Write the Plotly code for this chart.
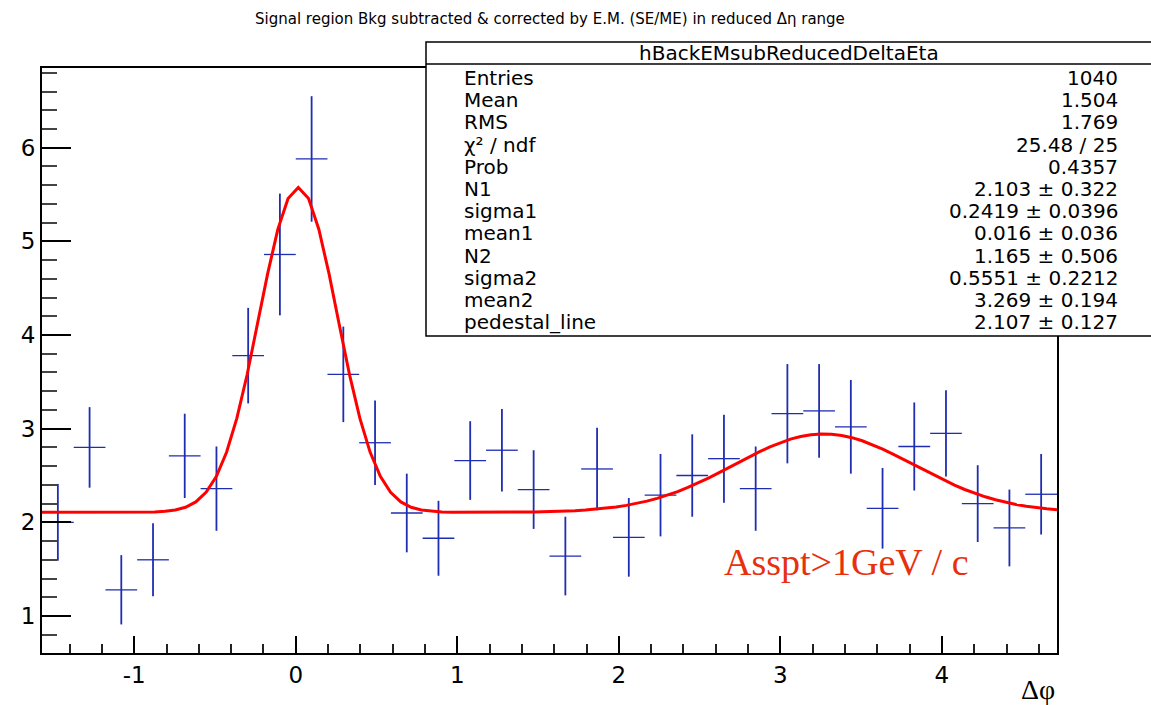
import numpy as np
import plotly.graph_objects as go

# ---------------- data ----------------
n_bins = 32
x_low, x_high = -np.pi / 2, 3 * np.pi / 2

bin_values = [2.00, 2.80, 1.28, 1.60, 2.71, 2.36, 3.78, 4.86, 5.88, 3.58, 2.85, 2.10,
              1.83, 2.66, 2.77, 2.35, 1.64, 2.57, 1.84, 2.29, 2.50, 2.68, 2.36, 3.16,
              3.19, 3.02, 2.15, 2.81, 2.95, 2.20, 1.94, 2.30]
bin_errors = [0.41, 0.43, 0.37, 0.39, 0.45, 0.45, 0.51, 0.65, 0.67, 0.51, 0.45, 0.42,
              0.40, 0.42, 0.44, 0.42, 0.42, 0.44, 0.42, 0.44, 0.44, 0.47, 0.45, 0.53,
              0.50, 0.50, 0.43, 0.47, 0.46, 0.41, 0.41, 0.43]

# fit parameters (from stats box)
N1, sigma1, mean1 = 2.103, 0.2419, 0.016
N2, sigma2, mean2 = 1.165, 0.5551, 3.269
pedestal = 2.107
n_fit_points = 100

x_tick_values = [-1, 0, 1, 2, 3, 4]
x_tick_labels = ["-1", "0", "1", "2", "3", "4"]
y_tick_values = [1, 2, 3, 4, 5, 6]
y_tick_labels = ["1", "2", "3", "4", "5", "6"]

stats_title = "hBackEMsubReducedDeltaEta"
stats_labels = ["Entries", "Mean", "RMS", "χ² / ndf", "Prob", "N1", "sigma1",
                "mean1", "N2", "sigma2", "mean2", "pedestal_line"]
stats_values = ["1040", "1.504", "1.769", "25.48 / 25", "0.4357", "2.103 ± 0.322",
                "0.2419 ± 0.0396", "0.016 ± 0.036", "1.165 ± 0.506", "0.5551 ± 0.2212",
                "3.269 ± 0.194", "2.107 ± 0.127"]

title_text = "Signal region Bkg subtracted & corrected by E.M. (SE/ME) in reduced Δη range"
x_title = "Δφ"
label_text = "Asspt>1GeV / c"

# ---------------- derived ----------------
bin_width = (x_high - x_low) / n_bins
bin_centers = x_low + (np.arange(n_bins) + 0.5) * bin_width


def fit_func(x):
    g1 = N1 / (np.sqrt(2 * np.pi) * sigma1) * np.exp(-0.5 * ((x - mean1) / sigma1) ** 2)
    g2 = N2 / (np.sqrt(2 * np.pi) * sigma2) * np.exp(-0.5 * ((x - mean2) / sigma2) ** 2)
    return pedestal + g1 + g2


fit_x = np.linspace(x_low, x_high, n_fit_points)
fit_y = fit_func(fit_x)

# ---------------- layout geometry (pixels) ----------------
W, H = 1151, 705
L, R, T, B = 42, 1057, 68, 653


def px(xp):
    return (xp - L) / (R - L)


def py(yp):
    return (B - yp) / (B - T)


blue = "#1f2db0"

fig = go.Figure()
fig.add_trace(go.Scatter(
    x=bin_centers, y=bin_values, mode="markers",
    marker=dict(size=1, color=blue, opacity=0),
    error_x=dict(type="constant", value=bin_width / 2, width=0, thickness=1.3, color=blue),
    error_y=dict(type="data", array=bin_errors, width=0, thickness=1.8, color=blue),
    showlegend=False, hoverinfo="skip"))
fig.add_trace(go.Scatter(
    x=fit_x, y=fit_y, mode="lines", line=dict(color="#ff0000", width=3),
    showlegend=False, hoverinfo="skip"))

axis_font = dict(family="DejaVu Sans", size=23, color="black")
fig.update_xaxes(
    range=[x_low, x_high], showgrid=False, zeroline=False,
    showline=True, linecolor="black", linewidth=2, mirror=True,
    ticks="inside", ticklen=17, tickwidth=2, tickcolor="black",
    tickmode="array", tickvals=x_tick_values, ticktext=x_tick_labels, tickfont=axis_font,
    minor=dict(ticks="inside", ticklen=9, tickmode="linear", dtick=0.2, tick0=0,
               tickwidth=1.5, tickcolor="#222"))
fig.update_yaxes(
    range=[0.605, 6.851], showgrid=False, zeroline=False,
    showline=True, linecolor="black", linewidth=2, mirror=True,
    ticks="inside", ticklen=29, tickwidth=2, tickcolor="black",
    tickmode="array", tickvals=y_tick_values, ticktext=y_tick_labels, tickfont=axis_font,
    minor=dict(ticks="inside", ticklen=15, tickmode="linear", dtick=0.2, tick0=0,
               tickwidth=1.5, tickcolor="#444"))

shapes = [
    dict(type="rect", xref="paper", yref="paper", x0=px(426), x1=px(1152), y0=py(336), y1=py(42),
         line=dict(color="black", width=1.5), fillcolor="white", layer="above"),
    dict(type="line", xref="paper", yref="paper", x0=px(426), x1=px(1152), y0=py(64), y1=py(64),
         line=dict(color="black", width=1.5), layer="above"),
]

stats_font = dict(family="DejaVu Sans", size=20, color="black")
annotations = [
    dict(text=title_text, xref="paper", yref="paper", x=px(550), y=py(19),
         xanchor="center", yanchor="middle", showarrow=False,
         font=dict(family="DejaVu Sans", size=15, color="black")),
    dict(text=stats_title, xref="paper", yref="paper", x=px(789), y=py(53),
         xanchor="center", yanchor="middle", showarrow=False, font=stats_font),
    dict(text=x_title, xref="paper", yref="paper", x=1.0, y=py(689),
         xanchor="right", yanchor="middle", showarrow=False,
         font=dict(family="Liberation Serif", size=28, color="black")),
    dict(text=label_text, xref="x", yref="y", x=2.64, y=1.58,
         xanchor="left", yanchor="middle", showarrow=False,
         font=dict(family="Liberation Serif", size=38, color="#e8300e")),
]
row_y0, row_step = 78, 22.2
for i, (lab, val) in enumerate(zip(stats_labels, stats_values)):
    yy = py(row_y0 + i * row_step)
    annotations.append(dict(text=lab, xref="paper", yref="paper", x=px(462), y=yy,
                            xanchor="left", yanchor="middle", showarrow=False, font=stats_font))
    annotations.append(dict(text=val, xref="paper", yref="paper", x=px(1120), y=yy,
                            xanchor="right", yanchor="middle", showarrow=False, font=stats_font))

fig.update_layout(
    width=W, height=H,
    margin=dict(l=L, r=W - R, t=T, b=H - B, autoexpand=False),
    plot_bgcolor="white", paper_bgcolor="white",
    shapes=shapes, annotations=annotations, showlegend=False)

fig.write_html("out.html", include_plotlyjs=True)
